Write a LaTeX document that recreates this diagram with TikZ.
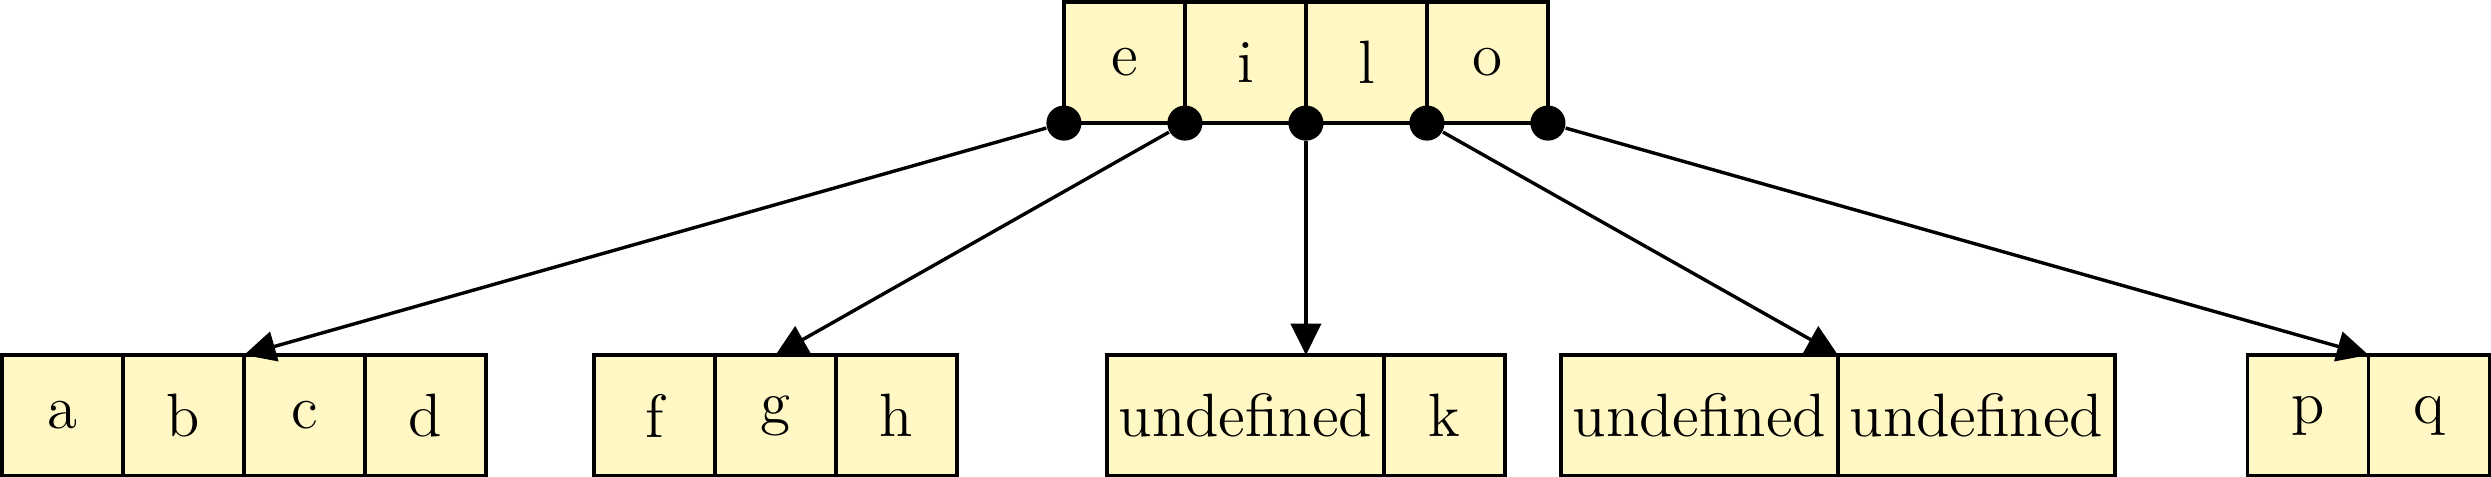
\documentclass[tikz,border=0pt]{standalone}
\usepackage{tikz}
\usepackage{xcolor}
\usetikzlibrary{arrows.meta, positioning}
\definecolor{cellYellow}{RGB}{255,248,196}
\tikzset{
    cellbox/.style={
        rectangle,
        draw=black,
        thick,
        fill=cellYellow,
        minimum width=1cm,
        minimum height=1cm,
        inner sep=2.8pt,
        outer sep=0pt,
        font=\Large
    },
    keydot/.style={circle, fill=black, inner sep=0pt, minimum size=0.29cm},
    childarrow/.style={-{Triangle[length=2.6mm, width=2.5mm]}, thick, draw=black}
}

\begin{document}
\begin{tikzpicture}[node distance=0pt]
    \useasboundingbox (0,0) rectangle (20.587,-3.934);
    % parent node
    \node[cellbox, anchor=north west] (e) at (8.793,-0.017) {e};
    \node[cellbox, right=of e] (i) {i};
    \node[cellbox, right=of i] (l) {l};
    \node[cellbox, right=of l] (o) {o};
    % children
    \node[cellbox, anchor=north west] (a) at (0.017,-2.934) {a};
    \node[cellbox, right=of a] (b) {b};
    \node[cellbox, right=of b] (c) {c};
    \node[cellbox, right=of c] (d) {d};
    \node[cellbox, anchor=north west] (f) at (4.909,-2.934) {f};
    \node[cellbox, right=of f] (g) {g};
    \node[cellbox, right=of g] (h) {h};
    \node[cellbox, anchor=north west] (undefA) at (9.149,-2.934) {undefined};
    \node[cellbox, right=of undefA] (k) {k};
    \node[cellbox, anchor=north west] (undefB) at (12.901,-2.934) {undefined};
    \node[cellbox, right=of undefB] (undefC) {undefined};
    \node[cellbox, anchor=north west] (p) at (18.575,-2.934) {p};
    \node[cellbox, right=of p] (q) {q};
    % pointers
    \node[keydot] (ptrA) at (e.south west) {};
    \node[keydot] (ptrB) at (e.south east) {};
    \node[keydot] (ptrC) at (i.south east) {};
    \node[keydot] (ptrD) at (l.south east) {};
    \node[keydot] (ptrE) at (o.south east) {};
    \draw[childarrow] (ptrA) -- (b.north east);
    \draw[childarrow] (ptrB) -- (g.north);
    \draw[childarrow] (ptrC) -- (ptrC |- undefA.north);
    \draw[childarrow] (ptrD) -- (undefB.north east);
    \draw[childarrow] (ptrE) -- (p.north east);
\end{tikzpicture}
\end{document}
